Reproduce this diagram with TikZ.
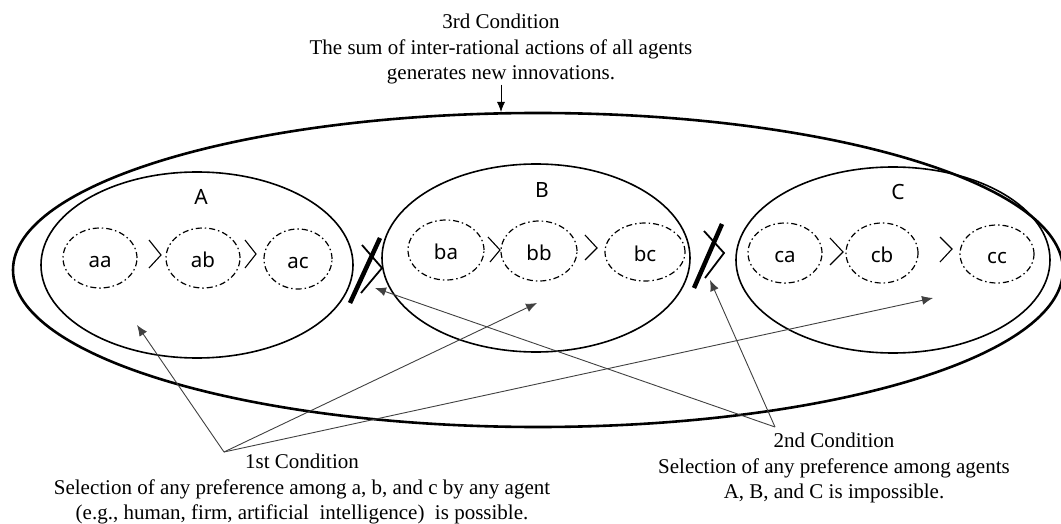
\documentclass[tikz,border=0pt]{standalone}
\usepackage{fontspec}
\setmainfont{Liberation Serif}
\newfontfamily\sansf{Noto Sans}
\usetikzlibrary{shapes.geometric,arrows.meta}
\begin{document}
\begin{tikzpicture}[x=1pt,y=-1pt,
  outer/.style={draw, ellipse, line width=2.6pt, inner sep=0pt},
  agent/.style={draw, ellipse, line width=1.6pt, inner sep=0pt},
  pref/.style={draw, ellipse, line width=1.2pt, dash pattern=on 6pt off 3pt on 1.5pt off 3pt, inner sep=0pt, text height=18pt, text depth=0pt, font=\sansf\fontsize{20.5}{24}\selectfont},
  lbl/.style={font=\sansf\fontsize{21}{24}\selectfont, inner sep=0pt},
  cond/.style={align=center, font=\fontsize{21}{25.5}\selectfont, inner sep=0pt, anchor=north},
  gt/.style={line width=1.1pt},
  notbar/.style={line width=4.5pt},
  notgt/.style={line width=1.8pt},
  pointer/.style={draw=black!75, line width=0.9pt, -{Latex[length=11pt,width=9pt]}},
  toparrow/.style={draw=black, line width=0.8pt, -{Latex[length=10pt,width=8pt]}},
]
\useasboundingbox (0,0) rectangle (1061,524);

% outer world ellipse
\node[outer, minimum width=1050pt, minimum height=314pt] (world) at (538,270) {};

% agents
\node[agent, minimum width=312pt, minimum height=186pt] (A) at (197,265) {};
\node[agent, minimum width=308pt, minimum height=188pt] (B) at (536,258) {};
\node[agent, minimum width=314pt, minimum height=186pt] (C) at (893,260) {};
\node[lbl] (lA) at (201,197) {A};
\node[lbl] (lB) at (542,190) {B};
\node[lbl] (lC) at (898,192) {C};

% preferences
\node[pref, minimum width=74pt, minimum height=60pt] (aa) at (100,258) {aa};
\node[pref, minimum width=74pt, minimum height=60pt] (ab) at (203,258) {ab};
\node[pref, minimum width=68pt, minimum height=60pt] (ac) at (298,259) {ac};
\node[pref, minimum width=76pt, minimum height=60pt] (ba) at (446,250) {ba};
\node[pref, minimum width=76pt, minimum height=60pt] (bb) at (539,251) {bb};
\node[pref, minimum width=80pt, minimum height=58pt] (bc) at (645,252) {bc};
\node[pref, minimum width=74pt, minimum height=60pt] (ca) at (785,253) {ca};
\node[pref, minimum width=72pt, minimum height=60pt] (cb) at (882,253) {cb};
\node[pref, minimum width=74pt, minimum height=58pt] (cc) at (997,254) {cc};

% preference signs
\draw[gt] (149,240) -- (161,255) -- (149,268);
\draw[gt] (245,240) -- (256,254) -- (245,268);
\draw[gt] (488,237) -- (500,250) -- (490,262);
\draw[gt] (585,235) -- (597,248) -- (585,260);
\draw[gt] (830,238) -- (843,252) -- (830,265);
\draw[gt] (940,237) -- (952,249) -- (940,262);

% negated preference signs between agents
\draw[notbar] (350,303) -- (380,238);
\draw[notgt] (362,245) -- (382,268) -- (361,293);
\draw[notbar] (694,288) -- (722,224);
\draw[notgt] (704,231) -- (724,253) -- (705,278);

% condition texts
\node[cond] (c3) at (501,14) {3rd Condition\\The sum of inter-rational actions of all agents\\generates new innovations.};
\node[cond] (c1) at (302,454) {1st Condition\\Selection of any preference among a, b, and c by any agent\\(e.g., human, firm, artificial\ \ intelligence)\ \ is possible.};
\node[cond] (c2) at (834,433) {2nd Condition\\Selection of any preference among agents\\A, B, and C is impossible.};

% pointer coordinates
\coordinate (top) at (501,112);
\coordinate (p1) at (224,452);
\coordinate (p2) at (775,427);
\coordinate (inA) at (137,325);
\coordinate (inB) at (537,303);
\coordinate (inC) at (933,298);
\coordinate (neg1) at (375,288);
\coordinate (neg2) at (710,280);

\draw[toparrow] (c3.south) -- (top);
\draw[pointer] (p1) -- (inA);
\draw[pointer] (p1) -- (inB);
\draw[pointer] (p1) -- (inC);
\draw[pointer] (p2) -- (neg1);
\draw[pointer] (p2) -- (neg2);
\end{tikzpicture}
\end{document}
